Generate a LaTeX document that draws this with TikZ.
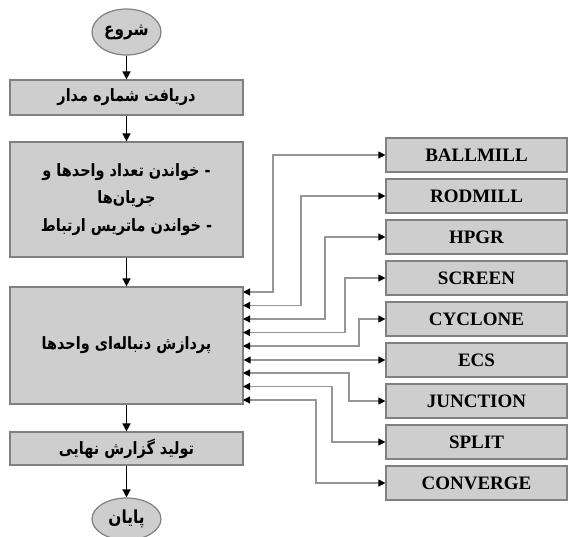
\documentclass[tikz,border=0pt]{standalone}
\usepackage{fontspec}
\setmainfont{Liberation Serif}
\newfontfamily\fa[Script=Arabic,FakeStretch=0.85]{DejaVu Sans}
\TeXXeTstate=1
\usetikzlibrary{arrows.meta,shapes.geometric}

\definecolor{boxfill}{RGB}{206,206,206}
\definecolor{boxline}{RGB}{128,128,128}
\definecolor{linkline}{RGB}{150,150,150}

\begin{document}
\begin{tikzpicture}[x=1pt,y=-1pt,
        box/.style={draw=boxline,fill=boxfill,line width=1.2pt,minimum width=233pt,
            inner sep=0pt,align=center,font=\fa\bfseries\fontsize{17}{27.5}\selectfont},
        term/.style={ellipse,draw=boxline,fill=boxfill,line width=1.2pt,minimum width=69pt,
            minimum height=46pt,inner sep=0pt,font=\fa\bfseries\fontsize{18}{18}\selectfont},
        unit/.style={draw=boxline,fill=boxfill,line width=1.2pt,minimum width=181pt,
            minimum height=34pt,inner sep=0pt,font=\bfseries\fontsize{19}{19}\selectfont},
        flow/.style={-{Triangle[length=8pt,width=8pt]},line width=1.5pt},
        link/.style={{Triangle[black,length=7pt,width=7pt]}-{Triangle[black,length=7pt,width=7pt]},
            draw=linkline,line width=1.2pt}]
\useasboundingbox (0,0) rectangle (568,536);

% main column
\node[term] (start) at (126.5,32) {\beginR شروع\endR};
\node[box,minimum height=35pt] (circ) at (126.5,97.5) {\beginR دریافت شماره مدار\endR};
\node[box,minimum height=115pt] (read) at (126.5,199.5)
    {\beginR - خواندن تعداد واحدها و\endR\\ \beginR جریان‌ها\endR\\ \beginR - خواندن ماتریس ارتباط\endR};
\node[box,minimum height=117pt] (proc) at (126.5,345.5) {\beginR پردازش دنباله‌ای واحدها\endR};
\node[box,minimum height=33pt] (report) at (126.5,448.5) {\beginR تولید گزارش نهایی\endR};
\node[term,minimum height=42pt] (stop) at (126.5,519) {\beginR پایان\endR};

\draw[flow] (start) -- (circ);
\draw[flow] (circ) -- (read);
\draw[flow] (read) -- (proc);
\draw[flow] (proc) -- (report);
\draw[flow] (report) -- (stop);

% unit models
\node[unit] (ball) at (476.5,155) {BALLMILL};
\node[unit] (rod) at (476.5,196) {RODMILL};
\node[unit] (hpgr) at (476.5,237) {HPGR};
\node[unit] (screen) at (476.5,278) {SCREEN};
\node[unit] (cyclone) at (476.5,319) {CYCLONE};
\node[unit] (ecs) at (476.5,360) {ECS};
\node[unit] (junction) at (476.5,401) {JUNCTION};
\node[unit] (split) at (476.5,442) {SPLIT};
\node[unit] (converge) at (476.5,483) {CONVERGE};

\coordinate (in1) at (243,292);
\coordinate (in2) at (243,305.5);
\coordinate (in3) at (243,319);
\coordinate (in4) at (243,332.5);
\coordinate (in5) at (243,346);
\coordinate (in7) at (243,373);
\coordinate (in8) at (243,386.5);
\coordinate (in9) at (243,400);

\draw[link] (in1) -- (273,292) |- (ball.west);
\draw[link] (in2) -- (301,305.5) |- (rod.west);
\draw[link] (in3) -- (325,319) |- (hpgr.west);
\draw[link] (in4) -- (345,332.5) |- (screen.west);
\draw[link] (in5) -- (359,346) |- (cyclone.west);
\draw[link] (proc.east |- ecs.west) -- (ecs.west);
\draw[link] (in7) -- (349,373) |- (junction.west);
\draw[link] (in8) -- (332,386.5) |- (split.west);
\draw[link] (in9) -- (316,400) |- (converge.west);

\end{tikzpicture}
\end{document}
